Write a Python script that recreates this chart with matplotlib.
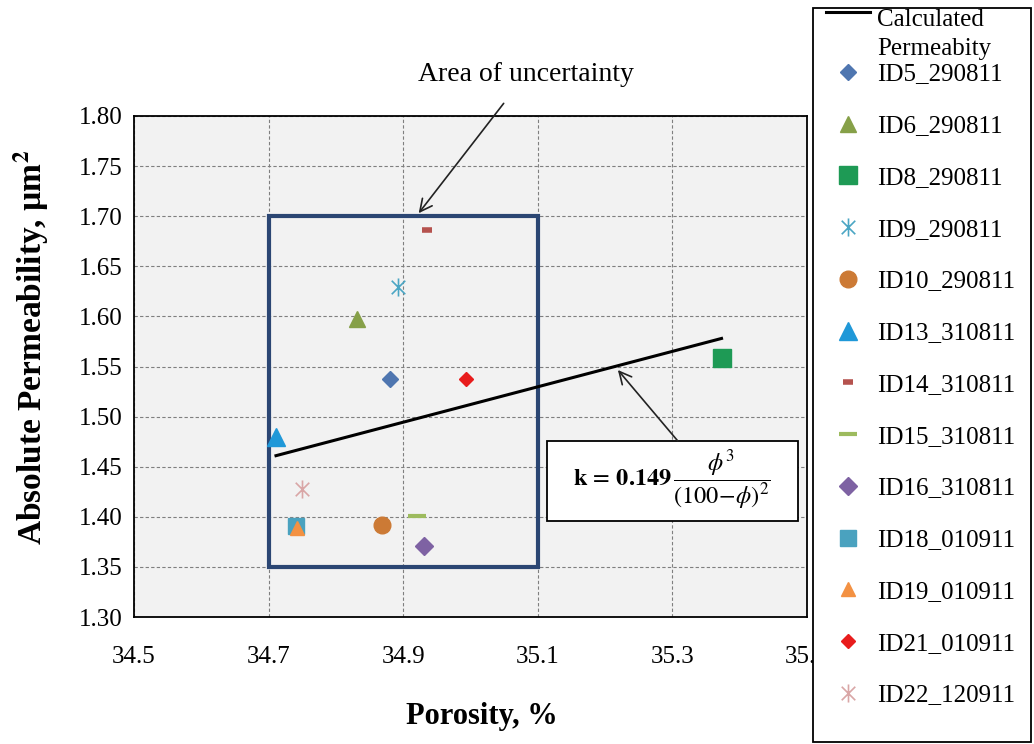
import matplotlib
matplotlib.use("Agg")
import matplotlib.pyplot as plt
from matplotlib.patches import Rectangle
from matplotlib.path import Path
from matplotlib.legend_handler import HandlerLine2D
from matplotlib.lines import Line2D

# ---- data -------------------------------------------------------------
sample_ids = ["ID5_290811", "ID6_290811", "ID8_290811", "ID9_290811",
              "ID10_290811", "ID13_310811", "ID14_310811", "ID15_310811",
              "ID16_310811", "ID18_010911", "ID19_010911", "ID21_010911",
              "ID22_120911"]
porosity = [34.881, 34.831, 35.373, 34.892, 34.869, 34.711, 34.935,
            34.920, 34.931, 34.741, 34.742, 34.993, 34.750]
permeability = [1.538, 1.597, 1.558, 1.629, 1.392, 1.480, 1.686,
                1.401, 1.371, 1.391, 1.389, 1.538, 1.428]

calc_porosity = [34.711, 35.373]
calc_permeability = [1.461, 1.578]

x_ticks = [34.5, 34.7, 34.9, 35.1, 35.3, 35.5]
y_ticks = [1.30, 1.35, 1.40, 1.45, 1.50, 1.55, 1.60, 1.65, 1.70, 1.75, 1.80]

# uncertainty window (porosity range, permeability range)
window_x = [34.7, 35.1]
window_y = [1.35, 1.70]

# ---- styles -----------------------------------------------------------
star = Path([(0, -1), (0, 1), (-0.75, -0.75), (0.75, 0.75),
             (-0.75, 0.75), (0.75, -0.75)],
            [Path.MOVETO, Path.LINETO, Path.MOVETO, Path.LINETO,
             Path.MOVETO, Path.LINETO])

styles = [
    dict(marker="D", color="#4F76B0", ms=8.5),
    dict(marker="^", color="#86A048", ms=12),
    dict(marker="s", color="#1E9A55", ms=13),
    dict(marker=star, color="#4BA6C4", ms=13, mew=1.2, mfc="none"),
    dict(marker="o", color="#CC7A35", ms=12),
    dict(marker="^", color="#1F98D8", ms=12.5),
    dict(marker="_", color="#B5524E", ms=7, mew=4),
    dict(marker="_", color="#9DBB5E", ms=13, mew=3),
    dict(marker="D", color="#7E62A3", ms=9),
    dict(marker="s", color="#4AA2BF", ms=12),
    dict(marker="^", color="#F39142", ms=10.5),
    dict(marker="D", color="#E81C1C", ms=7),
    dict(marker=star, color="#D9A6A6", ms=13, mew=1.2, mfc="none"),
]

plt.rcParams["font.family"] = ["Liberation Serif", "DejaVu Serif"]
plt.rcParams["mathtext.fontset"] = "stix"

W, H = 1034, 744
fig = plt.figure(figsize=(W / 100, H / 100), dpi=100)
ax = fig.add_axes([134 / W, 1 - 617 / H, 673 / W, 501 / H])
ax.set_facecolor("#F2F2F2")

# calculated permeability line
calc_line, = ax.plot(calc_porosity, calc_permeability, color="black",
                     lw=2.2, zorder=4, label="Calculated\nPermeabity")

# measured samples
sample_handles = []
for sid, px, py, st in zip(sample_ids, porosity, permeability, styles):
    st = dict(st)
    col = st.pop("color")
    kw = dict(ls="none", color=col, mec=col, zorder=5)
    if "mfc" not in st:
        kw["mfc"] = col
    kw.update(st)
    h, = ax.plot([px], [py], label=sid, **kw)
    sample_handles.append(h)

# uncertainty window
ax.add_patch(Rectangle((window_x[0], window_y[0]),
                       window_x[1] - window_x[0], window_y[1] - window_y[0],
                       fill=False, ec="#2B4673", lw=3, zorder=3))

ax.set_xlim(x_ticks[0], x_ticks[-1])
ax.set_ylim(y_ticks[0], y_ticks[-1])
ax.set_xticks(x_ticks)
ax.set_yticks(y_ticks)
ax.set_xticklabels([f"{v:.1f}" for v in x_ticks])
ax.set_yticklabels([f"{v:.2f}" for v in y_ticks])
ax.tick_params(length=0, labelsize=18)
ax.tick_params(axis="x", pad=21)
ax.tick_params(axis="y", pad=8)
ax.grid(True, color="#7F7F7F", ls=(0, (3, 2)), lw=0.8)
ax.set_axisbelow(True)
for sp in ax.spines.values():
    sp.set_linewidth(1.3)
    sp.set_color("black")

ax.set_xlabel("Porosity, %", fontsize=22, fontweight="bold")
ax.xaxis.set_label_coords(0.517, -0.17)
ax.set_ylabel(r"Absolute Permeability, µm$^\mathbf{2}$", fontsize=24,
              fontweight="bold")
ax.yaxis.set_label_coords(-0.124, 0.539)

# annotations
ax.annotate("Area of uncertainty", xy=(34.923, 1.703), xytext=(35.082, 1.841),
            fontsize=20, ha="center", va="center", annotation_clip=False,
            arrowprops=dict(arrowstyle="->", color="#222222", lw=1.2,
                            mutation_scale=22, shrinkA=12, shrinkB=0))

ax.add_patch(Rectangle((35.113, 1.3958), 0.3735, 0.0798, fc="white",
                       ec="black", lw=1.3, zorder=6, clip_on=False))
ax.text(35.30, 1.436,
        r"$\mathbf{k}\,=\,\mathbf{0.149}\,\dfrac{\phi^3}{(100\!-\!\phi)^2}$",
        fontsize=17.5, ha="center", va="center", zorder=7)
ax.annotate("", xy=(35.219, 1.5465), xytext=(35.308, 1.4757),
            arrowprops=dict(arrowstyle="->", color="#222222", lw=1.2,
                            mutation_scale=22, shrinkA=0, shrinkB=0),
            zorder=6)

# legend frame
fig.patches.append(Rectangle((813 / W, 1 - 742 / H), 218 / W, 734 / H,
                             transform=fig.transFigure, fc="white",
                             ec="black", lw=1.3, zorder=2))


class RaisedLine(HandlerLine2D):
    def create_artists(self, legend, orig_handle, xdescent, ydescent,
                       width, height, fontsize, trans):
        return super().create_artists(legend, orig_handle, xdescent,
                                      ydescent - 1.75 * fontsize, width,
                                      height, fontsize, trans)


leg1 = fig.legend([calc_line], [calc_line.get_label()], loc="upper left",
                  bbox_to_anchor=(826 / W, 1 - 9 / H), frameon=False,
                  fontsize=18, borderpad=0, borderaxespad=0,
                  handlelength=1.76, handletextpad=0.28,
                  handler_map={Line2D: RaisedLine()})
leg1.get_texts()[0].set_linespacing(1.4)
leg1.set_zorder(3)

leg2 = fig.legend(sample_handles, sample_ids, loc="upper left",
                  bbox_to_anchor=(826 / W, 1 - 63 / H), frameon=False,
                  fontsize=18, borderpad=0, borderaxespad=0,
                  handlelength=1.76, handletextpad=0.28, labelspacing=1.17,
                  numpoints=1)
leg2.set_zorder(3)

fig.savefig("out.png", dpi=100)
